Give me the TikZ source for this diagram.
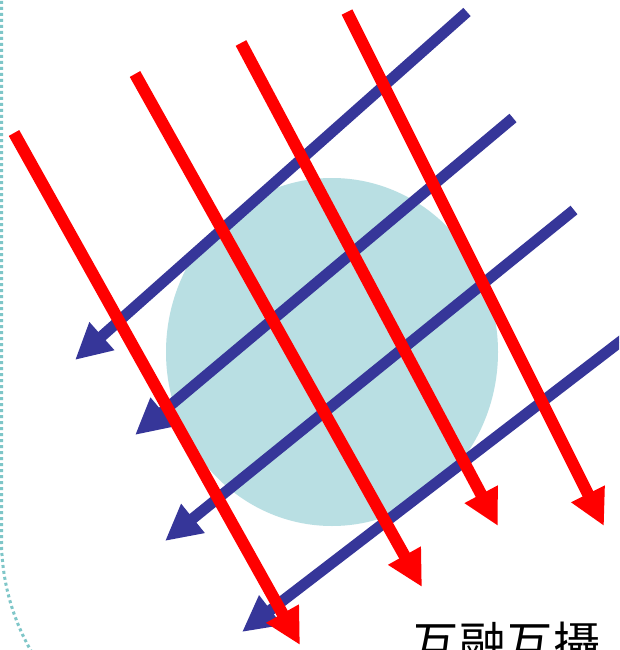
\documentclass[tikz,border=0pt]{standalone}
\usepackage{fontspec}
\newfontfamily\cjk{Noto Sans CJK TC}
\usetikzlibrary{arrows.meta}
\definecolor{rarrow}{HTML}{FF0000}
\definecolor{barrow}{HTML}{363699}
\definecolor{disk}{HTML}{B9DFE3}
\definecolor{dots}{HTML}{7EC6C8}
\tikzset{
  redarrow/.style={draw=rarrow, line width=12pt, -{Triangle[length=36pt,width=35pt]}, fill=rarrow},
  bluearrow/.style={draw=barrow, line width=11pt, -{Triangle[length=36pt,width=35pt]}, fill=barrow},
}
\begin{document}
\begin{tikzpicture}[x=1pt,y=-1pt]
\useasboundingbox (0,0) rectangle (619,650);
\clip (0,0) rectangle (619,650);
\fill[white] (0,0) rectangle (619,650);
% dotted border arc
\draw[dots, line width=3pt, dash pattern=on 3pt off 3pt] (1.5,-5) -- (1.5,540) arc[start angle=180, end angle=125, radius=223];
% disk
\fill[disk] (332,352) ellipse[x radius=166, y radius=174];
% coordinates
\coordinate (b1s) at (467,12);  \coordinate (b1e) at (75,360);
\coordinate (b2s) at (513,118); \coordinate (b2e) at (135,435);
\coordinate (b3s) at (574,210); \coordinate (b3e) at (165,541);
\coordinate (b4s) at (625,338); \coordinate (b4e) at (242,632);
\coordinate (r1s) at (14,133);  \coordinate (r1e) at (300,645);
\coordinate (r2s) at (135,74);  \coordinate (r2e) at (422,587);
\coordinate (r3s) at (241,43);  \coordinate (r3e) at (498,526);
\coordinate (r4s) at (347,12);  \coordinate (r4e) at (604,526);
% blue arrows
\draw[bluearrow] (b1s) -- (b1e);
\draw[bluearrow] (b2s) -- (b2e);
\draw[bluearrow] (b3s) -- (b3e);
\draw[bluearrow] (b4s) -- (b4e);
% red arrows
\draw[redarrow] (r1s) -- (r1e);
\draw[redarrow] (r2s) -- (r2e);
\draw[redarrow] (r3s) -- (r3e);
\draw[redarrow] (r4s) -- (r4e);
% label
\node[anchor=base west, inner sep=0pt, font=\cjk\fontsize{47}{56}\selectfont] (lbl) at (412,661) {互融互攝};
\end{tikzpicture}
\end{document}
